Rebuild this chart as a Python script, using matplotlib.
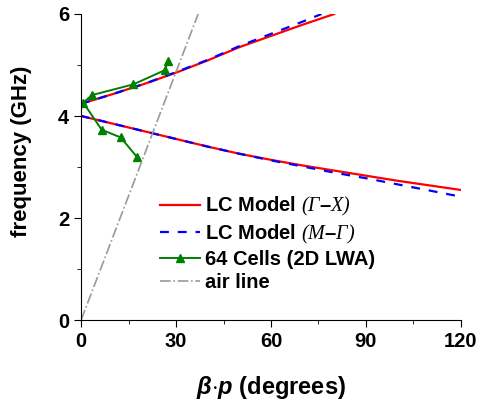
import matplotlib
matplotlib.use("Agg")
import matplotlib.pyplot as plt

plt.rcParams["font.family"] = ["Liberation Sans", "DejaVu Sans"]
plt.rcParams["font.weight"] = "bold"
plt.rcParams["axes.labelweight"] = "bold"
plt.rcParams["mathtext.fontset"] = "custom"
plt.rcParams["mathtext.rm"] = "Liberation Sans:weight=bold"
plt.rcParams["mathtext.it"] = "Liberation Sans:style=italic:weight=bold"
plt.rcParams["mathtext.bf"] = "Liberation Sans:weight=bold"
plt.rcParams["mathtext.cal"] = "Liberation Serif:style=italic:weight=normal"

# LC model, Gamma-X (upper / lower branch)
gx_up_x = [0, 10, 20, 30, 40, 50, 60, 70, 80]
gx_up_f = [4.24, 4.43, 4.63, 4.85, 5.09, 5.35, 5.57, 5.79, 6.0]
gx_lo_x = [0, 10, 20, 30, 40, 50, 60, 70, 80, 90, 100, 110, 120]
gx_lo_f = [4.00, 3.85, 3.70, 3.55, 3.40, 3.26, 3.14, 3.03, 2.93, 2.83, 2.73, 2.64, 2.55]

# LC model, M-Gamma
mg_up_x = [0, 10, 20, 30, 40, 50, 60, 70, 76]
mg_up_f = [4.24, 4.43, 4.63, 4.86, 5.10, 5.37, 5.61, 5.85, 6.0]
mg_lo_x = [0, 10, 20, 30, 40, 50, 60, 70, 80, 90, 100, 110, 119]
mg_lo_f = [4.00, 3.85, 3.70, 3.55, 3.40, 3.26, 3.13, 3.01, 2.89, 2.78, 2.66, 2.54, 2.43]

# measured, 64 cells
cell_x = [17.6, 12.5, 6.5, 0.7, 3.4, 16.5, 26.5, 27.4]
cell_f = [3.20, 3.58, 3.73, 4.26, 4.41, 4.62, 4.90, 5.07]

# light line
air_x = [0, 37]
air_f = [0, 6]

x_ticks = [0, 30, 60, 90, 120]
x_minor = [15, 45, 75, 105]
y_ticks = [0, 2, 4, 6]
y_minor = [1, 3, 5]

fig = plt.figure(figsize=(4.8, 4.0), dpi=100)
ax = fig.add_axes([0.169, 0.2, 0.791, 0.765])

ax.plot(gx_up_x, gx_up_f, color="#ff0000", lw=1.6,
        label=r"LC Model $\mathcal{(\Gamma}$–$\mathcal{X)}$")
ax.plot(gx_lo_x, gx_lo_f, color="#ff0000", lw=1.6)
ax.plot(mg_up_x, mg_up_f, color="#0000ff", lw=1.6, ls=(0, (4, 4)),
        label=r"LC Model $\mathcal{(M}$–$\mathcal{\Gamma)}$")
ax.plot(mg_lo_x, mg_lo_f, color="#0000ff", lw=1.6, ls=(0, (4, 4)))
ax.plot(cell_x, cell_f, color="#008000", lw=1.4, marker="^", ms=6,
        label="64 Cells (2D LWA)")
ax.plot(air_x, air_f, color="#999999", lw=1.2, ls="-.", label="air line")

ax.set_xlim(0, 120)
ax.set_ylim(0, 6)
ax.set_xticks(x_ticks)
ax.set_xticks(x_minor, minor=True)
ax.set_yticks(y_ticks)
ax.set_yticks(y_minor, minor=True)
ax.spines["top"].set_visible(False)
ax.spines["right"].set_visible(False)
ax.tick_params(which="major", direction="out", length=5)
ax.tick_params(which="minor", direction="out", length=3)
ax.set_xticklabels([str(v) for v in x_ticks], fontsize=14.5, fontweight="bold")
ax.set_yticklabels([str(v) for v in y_ticks], fontsize=14.5, fontweight="bold")

ax.set_xlabel(r"$\it{\beta{\cdot}p}$ (degrees)", fontsize=17, labelpad=17)
ax.set_ylabel("frequency (GHz)", fontsize=16)
ax.yaxis.set_label_coords(-0.13, 0.55)

ax.legend(loc="lower left", bbox_to_anchor=(0.208, 0.09), frameon=False,
          borderaxespad=0, borderpad=0,
          fontsize=14.5, handlelength=2.0, handletextpad=0.25, labelspacing=0.22)

fig.savefig("out.png", dpi=100)
